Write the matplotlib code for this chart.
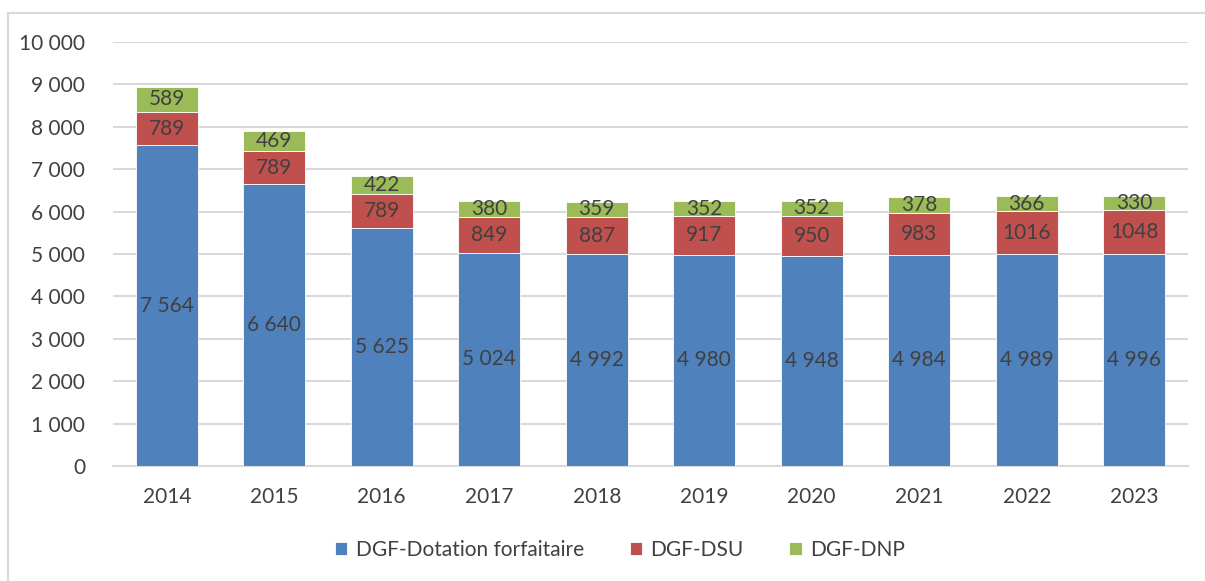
# Stacked bars of DGF components, 2014-2023

import numpy as np
import matplotlib.pyplot as plt
from matplotlib.patches import Rectangle

plt.rcParams['font.family'] = ['Lato', 'DejaVu Sans']

# data
years = ["2014", "2015", "2016", "2017", "2018", "2019", "2020", "2021", "2022", "2023"]
forfaitaire = [7564, 6640, 5625, 5024, 4992, 4980, 4948, 4984, 4989, 4996]
dsu = [789, 789, 789, 849, 887, 917, 950, 983, 1016, 1048]
dnp = [589, 469, 422, 380, 359, 352, 352, 378, 366, 330]
y_ticks = [0, 1000, 2000, 3000, 4000, 5000, 6000, 7000, 8000, 9000, 10000]

blue = "#4F81BD"
red = "#C0504D"
green = "#9BBB59"
txt = "#404040"
fs = 15

fig = plt.figure(figsize=(12.05, 5.81), dpi=100)
# light frame around the chart (right/bottom edges fall outside the image)
fig.patches.append(Rectangle((8 / 1205, -0.05), 1.05, 1.05 - 13 / 581, transform=fig.transFigure,
                             fill=False, edgecolor="#d9d9d9", linewidth=1.5))
ax = fig.add_axes([113 / 1205, 1 - 466 / 581, (1188 - 113) / 1205, (466 - 42) / 581])

x = np.arange(len(years))
w = 0.58
b1 = ax.bar(x, forfaitaire, w, color=blue, edgecolor="white", linewidth=0.6,
            label="DGF-Dotation forfaitaire", zorder=3)
b2 = ax.bar(x, dsu, w, bottom=forfaitaire, color=red, edgecolor="white", linewidth=0.6,
            label="DGF-DSU", zorder=3)
bottom3 = np.array(forfaitaire) + np.array(dsu)
b3 = ax.bar(x, dnp, w, bottom=bottom3, color=green, edgecolor="white", linewidth=0.6,
            label="DGF-DNP", zorder=3)

ax.bar_label(b1, labels=[f"{v:,}".replace(",", " ") for v in forfaitaire],
             label_type="center", color=txt, fontsize=fs)
ax.bar_label(b2, labels=[str(v) for v in dsu], label_type="center", color=txt, fontsize=fs)
ax.bar_label(b3, labels=[str(v) for v in dnp], label_type="center", color=txt, fontsize=fs)

ax.set_xlim(-0.5, len(years) - 0.5)
ax.set_ylim(0, 10000)
ax.set_yticks(y_ticks)
ax.set_yticklabels([f"{v:,}".replace(",", " ") for v in y_ticks])
ax.set_xticks(x)
ax.set_xticklabels(years)
ax.tick_params(axis="both", length=0, labelsize=fs, colors=txt)
ax.tick_params(axis="y", pad=20)
ax.tick_params(axis="x", pad=15)
ax.grid(axis="y", color="#d9d9d9", linewidth=1.5, zorder=0)
for s in ["left", "right", "top"]:
    ax.spines[s].set_visible(False)
ax.spines["bottom"].set_color("#d9d9d9")
ax.spines["bottom"].set_linewidth(1.5)

fig.legend(handles=[b1, b2, b3], loc="center", bbox_to_anchor=(620 / 1205, 1 - 550 / 581),
           ncol=3, frameon=False, fontsize=fs, labelcolor=txt, handlelength=0.6,
           handleheight=0.6, columnspacing=2.2, handletextpad=0.4)

plt.savefig("out.png", dpi=100)
